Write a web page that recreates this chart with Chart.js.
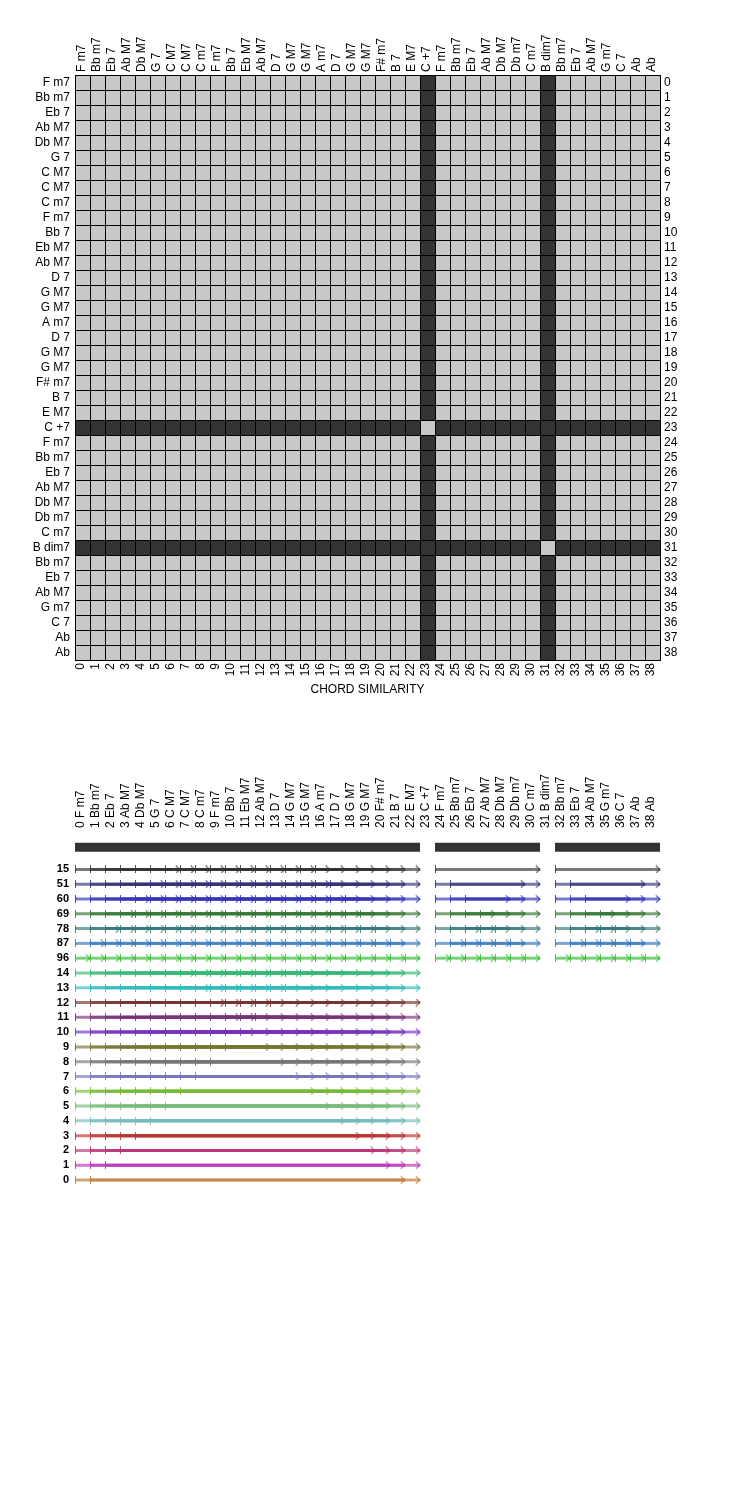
<!DOCTYPE html>
<html><head><meta charset="utf-8">
<script src="https://cdn.jsdelivr.net/npm/chart.js@4/dist/chart.umd.min.js"></script>
<style>
html,body{margin:0;padding:0;background:#fff;}
#c1{position:absolute;left:0;top:0;}
#c2{position:absolute;left:0;top:705px;}
</style></head><body>
<canvas id="c1" width="735" height="701"></canvas>
<canvas id="c2" width="735" height="495"></canvas>
<script>
// ---------- DATA ----------
const chords = ["F m7","Bb m7","Eb 7","Ab M7","Db M7","G 7","C M7","C M7","C m7","F m7","Bb 7","Eb M7","Ab M7","D 7","G M7","G M7","A m7","D 7","G M7","G M7","F# m7","B 7","E M7","C +7","F m7","Bb m7","Eb 7","Ab M7","Db M7","Db m7","C m7","B dim7","Bb m7","Eb 7","Ab M7","G m7","C 7","Ab","Ab"];
const chordNumbers = ["0","1","2","3","4","5","6","7","8","9","10","11","12","13","14","15","16","17","18","19","20","21","22","23","24","25","26","27","28","29","30","31","32","33","34","35","36","37","38"];
// 1 = similar (light), 0 = not similar (dark)
const similarity = [
"111111111111111111111110111111101111111",
"111111111111111111111110111111101111111",
"111111111111111111111110111111101111111",
"111111111111111111111110111111101111111",
"111111111111111111111110111111101111111",
"111111111111111111111110111111101111111",
"111111111111111111111110111111101111111",
"111111111111111111111110111111101111111",
"111111111111111111111110111111101111111",
"111111111111111111111110111111101111111",
"111111111111111111111110111111101111111",
"111111111111111111111110111111101111111",
"111111111111111111111110111111101111111",
"111111111111111111111110111111101111111",
"111111111111111111111110111111101111111",
"111111111111111111111110111111101111111",
"111111111111111111111110111111101111111",
"111111111111111111111110111111101111111",
"111111111111111111111110111111101111111",
"111111111111111111111110111111101111111",
"111111111111111111111110111111101111111",
"111111111111111111111110111111101111111",
"111111111111111111111110111111101111111",
"000000000000000000000001000000000000000",
"111111111111111111111110111111101111111",
"111111111111111111111110111111101111111",
"111111111111111111111110111111101111111",
"111111111111111111111110111111101111111",
"111111111111111111111110111111101111111",
"111111111111111111111110111111101111111",
"111111111111111111111110111111101111111",
"000000000000000000000000000000010000000",
"111111111111111111111110111111101111111",
"111111111111111111111110111111101111111",
"111111111111111111111110111111101111111",
"111111111111111111111110111111101111111",
"111111111111111111111110111111101111111",
"111111111111111111111110111111101111111",
"111111111111111111111110111111101111111"
];
const cellColors = {"1": "#c8c8c8", "0": "#333333"};

// lower chart: repeated-section rows
const seqLabels = chords.map((c, i) => i + " " + c);
const rowLabels  = ["15","51","60","69","78","87","96","14","13","12","11","10","9","8","7","6","5","4","3","2","1","0"];
const rowLengths = [7,6,5,4,3,2,1,8,9,10,11,12,13,14,15,16,17,18,19,20,21,22];
const rowColors  = ["#333333","#333377","#3333bb","#337733","#337777","#3377bb","#33bb33","#33bb77","#33bbbb","#773333","#773377","#7733bb","#777733","#777777","#7777bb","#77bb33","#77bb77","#77bbbb","#bb3333","#bb3377","#bb33bb","#bb7733"];
const groups = [[0, 23], [24, 31], [32, 39]];   // section boundaries (between C +7 and B dim7)

// ---------- helpers ----------
Chart.defaults.font.family = "'Liberation Sans', Arial, sans-serif";
Chart.defaults.font.size = 12;
Chart.defaults.color = "#000";

function rgba(hex, a) {
  const n = parseInt(hex.slice(1), 16);
  return `rgba(${(n >> 16) & 255},${(n >> 8) & 255},${n & 255},${a})`;
}
function tickImg(col) {
  const c = document.createElement('canvas'); c.width = 4; c.height = 8;
  const g = c.getContext('2d'); g.fillStyle = rgba(col, 0.85); g.fillRect(2, 0, 1, 8); return c;
}
function arrowImg(col) {
  const c = document.createElement('canvas'); c.width = 12; c.height = 8;
  const g = c.getContext('2d'); g.strokeStyle = rgba(col, 0.75); g.lineWidth = 1.2;
  g.beginPath(); g.moveTo(1.8, 0.4); g.lineTo(6, 4); g.lineTo(1.8, 7.6); g.stroke(); return c;
}

// ---------- top chart: similarity matrix ----------
const cells = [];
similarity.forEach((row, r) => { for (let c = 0; c < row.length; c++) cells.push({x: c, y: r, v: row[c]}); });

const fixTicks = s => { s.ticks = chords.map((_, i) => ({value: i})); };
const noGrid = {display: false, drawTicks: false};

new Chart(document.getElementById('c1'), {
  type: 'scatter',
  data: {datasets: [{
    data: cells,
    pointStyle: 'rect',
    pointRadius: 15 / Math.SQRT2,
    pointBorderWidth: 0,
    pointBackgroundColor: ctx => cellColors[ctx.raw.v],
    clip: false
  }]},
  options: {
    responsive: false, animation: false, events: [],
    layout: {padding: 0},
    plugins: {legend: {display: false}, tooltip: {enabled: false}},
    scales: {
      x: {type: 'linear', position: 'top', min: -0.5, max: 38.5,
          afterBuildTicks: fixTicks, afterFit: s => { s.height = 75; },
          ticks: {autoSkip: false, minRotation: 90, maxRotation: 90, padding: 3, labelOffset: 13.4, callback: (v, i) => chords[i]},
          grid: {display: true, offset: true, color: '#000', lineWidth: 1, drawTicks: false, z: 1},
          border: {display: true, color: '#000', z: 1}},
      x2: {type: 'linear', position: 'bottom', min: -0.5, max: 38.5,
          afterBuildTicks: fixTicks, afterFit: s => { s.height = 41; },
          ticks: {autoSkip: false, minRotation: 90, maxRotation: 90, padding: 3, labelOffset: -2, callback: (v, i) => chordNumbers[i]},
          grid: noGrid, border: {display: true, color: '#000', z: 1},
          title: {display: true, text: 'CHORD SIMILARITY', font: {size: 12}, padding: {top: 2, bottom: 4}}},
      y: {type: 'linear', position: 'left', reverse: true, min: -0.5, max: 38.5,
          afterBuildTicks: fixTicks, afterFit: s => { s.width = 75; },
          ticks: {autoSkip: false, padding: 5, callback: (v, i) => chords[i]},
          grid: {display: true, offset: true, color: '#000', lineWidth: 1, drawTicks: false, z: 1},
          border: {display: true, color: '#000', z: 1}},
      y2: {type: 'linear', position: 'right', reverse: true, min: -0.5, max: 38.5,
          afterBuildTicks: fixTicks, afterFit: s => { s.width = 75; },
          ticks: {autoSkip: false, padding: 4, callback: (v, i) => chordNumbers[i]},
          grid: noGrid, border: {display: true, color: '#000', z: 1}}
    }
  }
});

// ---------- bottom chart: repeated sections ----------
const datasets = [];
groups.forEach(([g0, g1]) => {
  datasets.push({data: [{x: g0, y: -1.5}, {x: g1, y: -1.5}], showLine: true, borderColor: '#333333',
    borderWidth: 9, borderCapStyle: 'butt', pointRadius: 0, clip: false});
});
rowLengths.forEach((L, r) => {
  const t = tickImg(rowColors[r]), a = arrowImg(rowColors[r]);
  groups.forEach(([g0, g1]) => {
    for (let s = g0; s + L <= g1; s++) {
      datasets.push({data: [{x: s, y: r}, {x: s + L, y: r}], showLine: true,
        borderColor: rgba(rowColors[r], 0.66), borderWidth: 3,
        pointStyle: [t, a], pointRadius: 4, clip: false});
    }
  });
});

new Chart(document.getElementById('c2'), {
  type: 'scatter',
  data: {datasets},
  options: {
    responsive: false, animation: false, events: [],
    layout: {padding: {right: 75, bottom: 7.5, top: 0, left: 0}},
    plugins: {legend: {display: false}, tooltip: {enabled: false}},
    scales: {
      x: {type: 'linear', position: 'top', min: 0, max: 39,
          afterBuildTicks: s => { s.ticks = seqLabels.map((_, i) => ({value: i + 0.5})); },
          afterFit: s => { s.height = 126; },
          ticks: {autoSkip: false, minRotation: 90, maxRotation: 90, padding: 3, labelOffset: 12.5, callback: (v, i) => seqLabels[i]},
          grid: {display: false, drawTicks: false}, border: {display: false}},
      y: {type: 'linear', position: 'left', reverse: true, min: -2.6, max: 21.5,
          afterBuildTicks: s => { s.ticks = rowLabels.map((_, i) => ({value: i})); },
          afterFit: s => { s.width = 75; },
          ticks: {autoSkip: false, padding: 6, font: {size: 11, weight: 'bold'}, callback: (v, i) => rowLabels[i]},
          grid: {display: false, drawTicks: false}, border: {display: false}}
    }
  }
});
</script>
</body></html>
